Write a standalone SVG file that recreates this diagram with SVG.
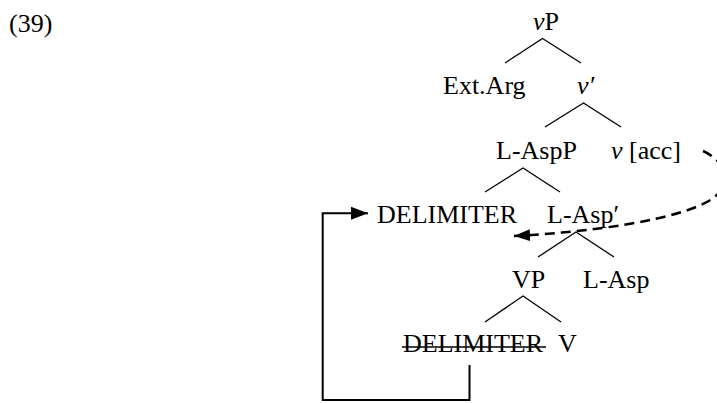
<svg xmlns="http://www.w3.org/2000/svg" width="717" height="403" viewBox="0 0 717 403" font-family="'Liberation Serif', Tinos, 'Times New Roman', serif">
<style>
text{font-family:'Liberation Serif', Tinos, 'Times New Roman', serif;font-size:26px;fill:#000}
.i{font-style:italic}
.br{stroke:#000;stroke-width:1.3;fill:none}
.arr{stroke:#000;stroke-width:2;fill:none}
.dash{stroke:#000;stroke-width:2.5;fill:none;stroke-dasharray:10 6}
</style>
<defs>
<marker id="ah" markerWidth="18" markerHeight="14" refX="17" refY="7" orient="auto" markerUnits="userSpaceOnUse">
<path d="M0,0.5 L17,7 L0,13.5 Z" fill="#000"/>
</marker>
<marker id="ah2" markerWidth="18" markerHeight="14" refX="16" refY="7" orient="auto" markerUnits="userSpaceOnUse">
<path d="M0,1 L16,7 L0,13 Z" fill="#000"/>
</marker>
</defs>
<rect width="717" height="403" fill="#fff"/>
<text x="9" y="32">(39)</text>
<g id="vP"><text x="533" y="30"><tspan class="i">v</tspan>P</text></g>
<g id="ExtArg"><text x="443" y="94">Ext.Arg</text></g>
<g id="vbar"><text x="577" y="94" class="i">v′</text></g>
<g id="LAspP"><text x="496" y="159">L-AspP</text></g>
<g id="vacc"><text x="611" y="159"><tspan class="i">v</tspan> [acc]</text></g>
<g id="DELIMITER"><text x="377" y="223">DELIMITER</text></g>
<g id="LAspbar"><text x="547" y="223">L-Asp′</text></g>
<g id="VP"><text x="512" y="288">VP</text></g>
<g id="LAsp"><text x="583" y="288">L-Asp</text></g>
<g id="DELIMITER2"><text x="403" y="352">DELIMITER</text><line x1="402" y1="347" x2="546" y2="347" stroke="#000" stroke-width="1.6"/></g>
<g id="V"><text x="558" y="352">V</text></g>
<g id="connectors">
<path class="br" d="M505,63 L542.5,38.5 L581,63"/>
<path class="br" d="M545,127 L583.5,103 L621,127"/>
<path class="br" d="M485,192 L523,168 L560,192"/>
<path class="br" d="M538,257 L576,232 L614,257"/>
<path class="br" d="M485,322 L523,296 L561,322"/>
<path class="dash" d="M703,151 C728,162 732,185 712,199 C680,220 590,232 514,236" marker-end="url(#ah2)"/>
<path class="arr" d="M469.5,365 L469.5,400 L322.7,400 L322.7,213.3 L368,213.3" marker-end="url(#ah)"/>
</g>
</svg>
